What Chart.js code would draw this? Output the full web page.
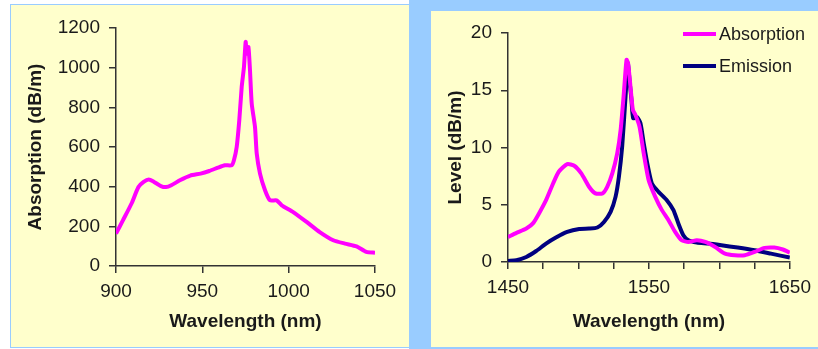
<!DOCTYPE html>
<html>
<head>
<meta charset="utf-8">
<script src="https://cdn.jsdelivr.net/npm/chart.js@4.4.1/dist/chart.umd.min.js"></script>
<style>
  body { margin: 0; background: #ffffff; width: 818px; height: 349px; position: relative; overflow: hidden; }
  #leftPanel { position: absolute; left: 10px; top: 4px; width: 398px; height: 342px; background: #ffffcc; border: 1px solid #99ccff; }
  #blueStrip { position: absolute; left: 409px; top: 0; width: 409px; height: 349px; background: #99ccff; }
  #rightPanel { position: absolute; left: 431px; top: 11px; width: 387px; height: 336px; background: #ffffcc; }
  canvas { position: absolute; left: 0; top: 0; }
</style>
</head>
<body>
<div id="leftPanel"><canvas id="graficaAbs" width="398" height="342"></canvas></div>
<div id="blueStrip"></div>
<div id="rightPanel"><canvas id="graficaNivel" width="387" height="336"></canvas></div>

<script>
// left plot: absorption around the 976 nm band
let absLambda = [900, 904, 909, 913, 916, 919, 922, 926, 929, 932, 937, 943, 949, 954, 959, 963, 967, 968.3, 969.9, 971.4, 972.8, 974.1, 975.1, 975.7, 976.7, 977.6, 978.6, 980.5, 981.5, 983.4, 986.3, 989.2, 993, 996, 1002.6, 1010.4, 1018, 1025.8, 1032.6, 1039.3, 1045, 1050];
let absValues = [163, 230, 315, 398, 424, 436, 424, 403, 398, 407, 432, 456, 466, 479, 496, 508, 508, 533, 600, 735, 903, 1003, 1130, 1071, 1104, 987, 819, 701, 567, 466, 382, 331, 331, 306, 272, 222, 171, 130, 113, 99, 71, 67];

// right plot: absorption and emission around 1550 nm
let nivelAbsLambda = [1450, 1456, 1463, 1468, 1472, 1477, 1482, 1486, 1492, 1497, 1502, 1507.5, 1512, 1517, 1520.4, 1524, 1527.5, 1529.9, 1532.2, 1534.1, 1535.2, 1536.9, 1538.6, 1540.4, 1543.3, 1546.3, 1549.8, 1554.5, 1559.2, 1563.9, 1568.6, 1573.2, 1578, 1584, 1590, 1597, 1604, 1611, 1618, 1625, 1632, 1639, 1645, 1650];
let nivelAbsValues = [2.19, 2.54, 2.92, 3.42, 4.24, 5.4, 6.86, 7.88, 8.55, 8.41, 7.74, 6.57, 5.99, 5.99, 6.57, 7.74, 9.49, 11.53, 14.75, 17.66, 17.37, 15.32, 13.28, 12.85, 11.82, 9.49, 7.15, 5.69, 4.53, 3.65, 2.63, 1.9, 1.75, 1.9, 1.75, 1.31, 0.73, 0.59, 0.59, 0.88, 1.23, 1.26, 1.09, 0.82];
let emiLambda = [1450, 1456, 1463, 1470, 1477, 1484, 1492, 1500.5, 1507.5, 1513.4, 1518.1, 1522.8, 1526.3, 1528.7, 1531, 1533.4, 1535, 1536.2, 1537.6, 1538.8, 1541.6, 1544, 1546.3, 1549.3, 1552.1, 1556.8, 1562.7, 1567.4, 1570.9, 1574.4, 1578, 1584, 1592, 1601.4, 1613, 1625, 1636.6, 1650];
let emiValues = [0.09, 0.15, 0.44, 0.96, 1.61, 2.14, 2.63, 2.89, 2.92, 3.01, 3.5, 4.38, 5.69, 7.44, 10.07, 14.45, 17.37, 15.91, 14.16, 12.56, 12.64, 12.12, 10.37, 8.32, 6.86, 6.13, 5.4, 4.53, 3.36, 2.34, 1.9, 1.7, 1.61, 1.46, 1.26, 1.02, 0.73, 0.39];

let absTicksX = [900, 1050, 50];
let absTicksY = [0, 1200, 200];
let nivelTicksX = [1450, 1650, 25];
let nivelLabelsX = [1450, 1550, 1650];
let nivelTicksY = [0, 20, 5];

const fuente = "'Liberation Sans', Arial, sans-serif";
const colorEje = '#333333';
const colorTexto = '#1a1a1a';

function puntos(xs, ys) {
    return xs.map((x, i) => ({ x: x, y: ys[i] }));
}

function ejeX(rango, titulo, alto, etiquetas) {
    return {
        type: 'linear',
        min: rango[0],
        max: rango[1],
        grid: { drawOnChartArea: false, drawTicks: true, tickLength: 7, color: colorEje, lineWidth: 1.5 },
        border: { color: colorEje, width: 1.5 },
        ticks: {
            stepSize: rango[2],
            autoSkip: false,
            maxRotation: 0,
            padding: 7,
            color: colorTexto,
            font: { family: fuente, size: 19 },
            callback: v => (etiquetas ? (etiquetas.includes(v) ? String(v) : '') : String(v))
        },
        title: {
            display: true,
            text: titulo,
            color: colorTexto,
            font: { family: fuente, size: 19, weight: 'bold' },
            padding: { top: 0, bottom: 14 }
        },
        afterFit: s => { s.height = alto; }
    };
}

function ejeY(rango, titulo, ancho) {
    return {
        type: 'linear',
        min: rango[0],
        max: rango[1],
        grid: { drawOnChartArea: false, drawTicks: true, tickLength: 7, color: colorEje, lineWidth: 1.5 },
        border: { color: colorEje, width: 1.5 },
        ticks: {
            stepSize: rango[2],
            padding: 9,
            color: colorTexto,
            font: { family: fuente, size: 19 },
            callback: v => String(v)
        },
        title: {
            display: true,
            text: titulo,
            color: colorTexto,
            font: { family: fuente, size: 19, weight: 'bold' },
            padding: { top: 13, bottom: 0 }
        },
        afterFit: s => { s.width = ancho; }
    };
}

// small legend drawn at the top right of the right plot
const leyendaPropia = {
    id: 'leyendaPropia',
    afterDraw(chart) {
        const ctx = chart.ctx;
        ctx.save();
        chart.data.datasets.forEach((d, i) => {
            let y = 23 + i * 32;
            ctx.strokeStyle = d.borderColor;
            ctx.lineWidth = 4;
            ctx.beginPath();
            ctx.moveTo(252, y);
            ctx.lineTo(285, y);
            ctx.stroke();
            ctx.fillStyle = colorTexto;
            ctx.font = '18px ' + fuente;
            ctx.textBaseline = 'middle';
            ctx.fillText(d.label, 288, y + 1);
        });
        ctx.restore();
    }
};

const ctxAbs = document.getElementById('graficaAbs').getContext('2d');
new Chart(ctxAbs, {
    type: 'line',
    data: {
        datasets: [{
            label: 'Absorption',
            data: puntos(absLambda, absValues),
            borderColor: '#ff00ff',
            borderWidth: 4,
            pointRadius: 0,
            tension: 0.2,
            fill: false
        }]
    },
    options: {
        responsive: false,
        animation: false,
        layout: { padding: { left: 0, right: 34, top: 23, bottom: 0 } },
        plugins: { legend: { display: false }, tooltip: { enabled: false } },
        scales: {
            x: ejeX(absTicksX, 'Wavelength (nm)', 81),
            y: ejeY(absTicksY, 'Absorption (dB/m)', 105)
        }
    }
});

const ctxNivel = document.getElementById('graficaNivel').getContext('2d');
new Chart(ctxNivel, {
    type: 'line',
    data: {
        datasets: [{
            label: 'Absorption',
            data: puntos(nivelAbsLambda, nivelAbsValues),
            borderColor: '#ff00ff',
            borderWidth: 4,
            pointRadius: 0,
            tension: 0.2,
            fill: false
        }, {
            label: 'Emission',
            data: puntos(emiLambda, emiValues),
            borderColor: '#000080',
            borderWidth: 4,
            pointRadius: 0,
            tension: 0.2,
            fill: false
        }]
    },
    options: {
        responsive: false,
        animation: false,
        layout: { padding: { left: 0, right: 26, top: 22, bottom: 0 } },
        plugins: { legend: { display: false }, tooltip: { enabled: false } },
        scales: {
            x: ejeX(nivelTicksX, 'Wavelength (nm)', 85, nivelLabelsX),
            y: ejeY(nivelTicksY, 'Level (dB/m)', 77)
        }
    },
    plugins: [leyendaPropia]
});
</script>
</body>
</html>
